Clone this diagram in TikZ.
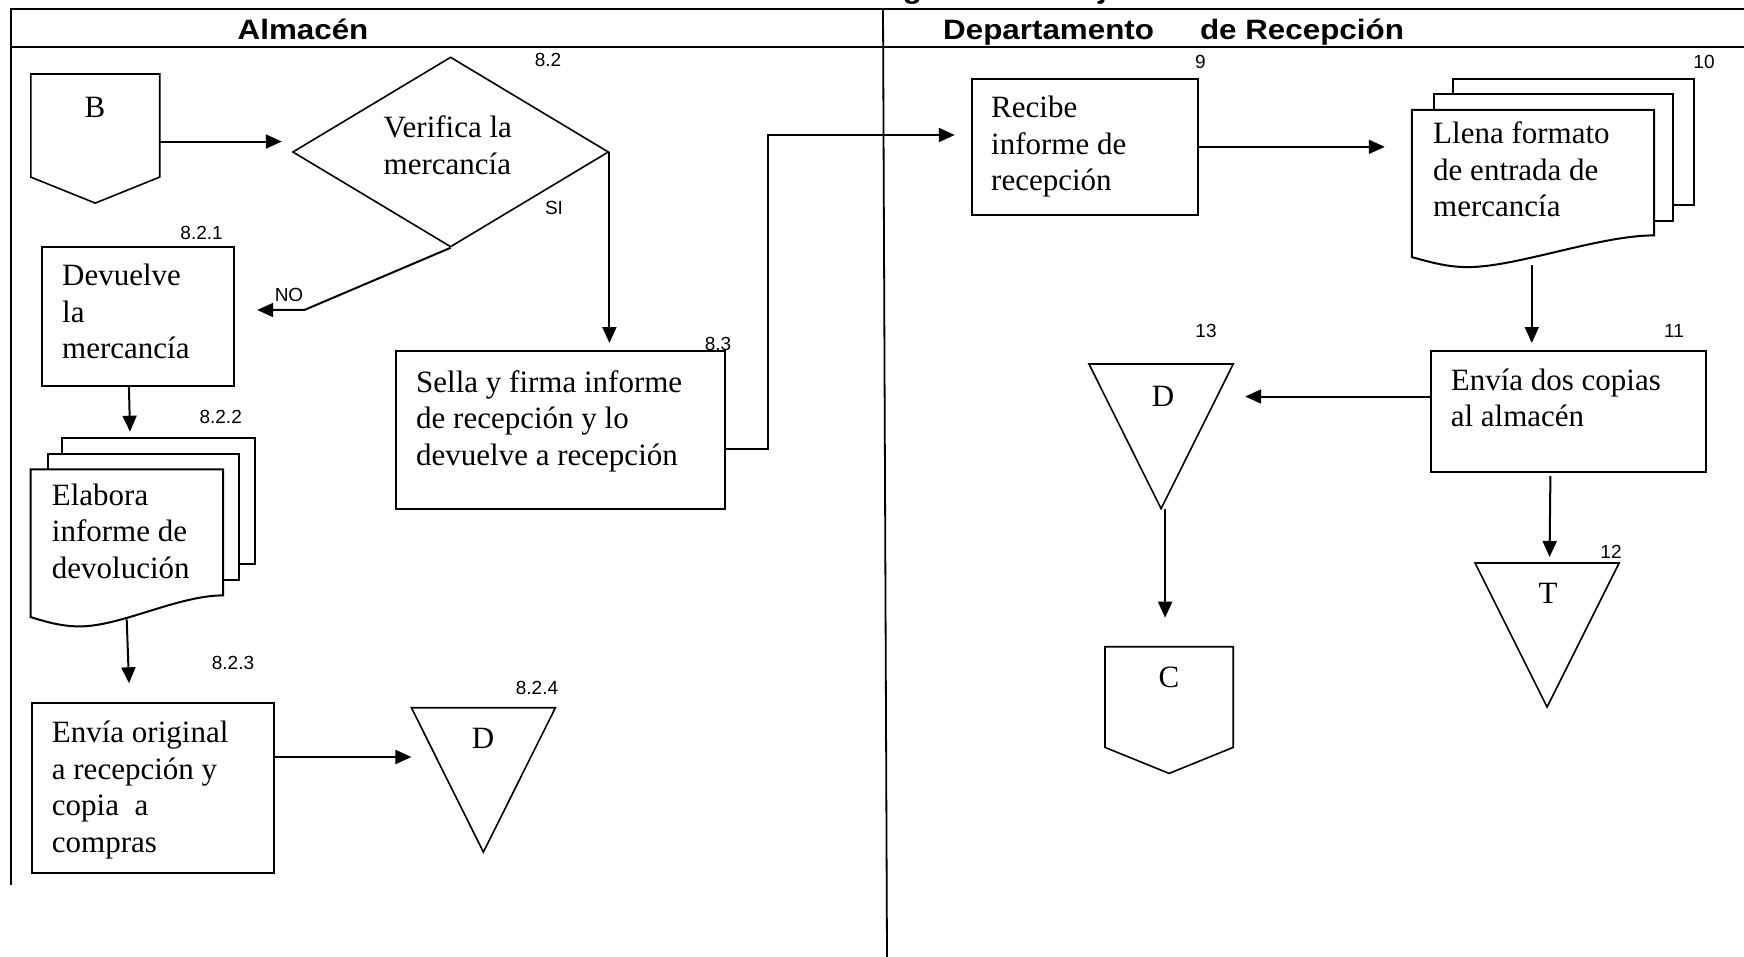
\documentclass[tikz,border=0pt]{standalone}
\usepackage{fontspec}
\setmainfont{Liberation Serif}
\setsansfont{Liberation Sans}
\newfontfamily\headfont{Liberation Sans}[FakeStretch=1.12]
\usetikzlibrary{arrows.meta,calc,shapes.geometric}

\begin{document}
\begin{tikzpicture}[x=1pt,y=-1pt,
  arr/.style={line width=2pt,-{Triangle[length=16pt,width=14pt]}},
  box/.style={draw,line width=2pt,rectangle,inner sep=0pt,anchor=north west},
  sheet/.style={draw,line width=2pt,fill=white,rectangle,inner sep=0pt,anchor=north west},
  ghost/.style={rectangle,inner sep=0pt,anchor=north west},
  outline/.style={line width=1.6pt},
  body/.style={anchor=base west,inner sep=0pt,font=\fontsize{31}{36.5}\selectfont},
  glyph/.style={inner sep=0pt,font=\fontsize{31}{36}\selectfont},
  num/.style={inner sep=0pt,font=\sffamily\fontsize{19}{22}\selectfont},
  head/.style={inner sep=0pt,font=\headfont\bfseries\fontsize{28}{32}\selectfont}
]
\useasboundingbox (0,0) rectangle (1744,957);
\clip (0,0) rectangle (1744,957);

% title line, cut by the top edge of the page
\node[head,anchor=base] (title) at (990,-1) {Diagrama de Flujo};

% swimlane frame
\draw[line width=2.5pt] (11,885) -- (11,9) -- (1760,9);
\draw[line width=2.5pt] (11,47) -- (1760,47);
\draw[line width=1.8pt] (883,9) -- (887,957);
\node[head,anchor=base] (h-alm) at (303,40) {Almacén};
\node[head,anchor=base west] (h-rec) at (943,40) {Departamento\hspace{46pt}de Recepción};

% ---------------- Almacén ----------------
% off-page connector B
\node[ghost,minimum width=128.5pt,minimum height=128.7pt] (B) at (30.8,74) {};
\draw[outline] (B.north west) -- (B.north east) -- ($(B.south east)+(0,-26)$)
  -- (B.south) -- ($(B.south west)+(0,-26)$) -- cycle;
\node[glyph] (B-t) at (95,107) {B};

% decision
\node[diamond,draw,line width=1.6pt,minimum width=316pt,minimum height=190pt,
  aspect=1.66,inner sep=0pt] (dia) at (450.6,152) {};
\node[body] (dia-t) at (383.5,138) {\begin{tabular}[t]{@{}l@{}}Verifica la\\mercancía\end{tabular}};
\node[num] (n82) at (548,60) {8.2};
\draw[arr,shorten >=10pt] ($(B.east)+(0,3)$) -- ($(B.east -| dia.west)+(0,3)$);

% return goods
\node[box,minimum width=192.5pt,minimum height=139.3pt] (dev) at (40.7,245.7) {};
\node[body] (dev-t) at (62,286) {\begin{tabular}[t]{@{}l@{}}Devuelve\\la\\mercancía\end{tabular}};
\node[num] (n821) at (201.6,233) {8.2.1};

\coordinate (nobend) at (304.3,310);
\draw[arr,shorten >=22pt] (dia.south) -- (nobend) -- (nobend -| dev.east);
\node[num] (no) at (289,295) {NO};

% stamp and sign
\node[box,minimum width=329.2pt,minimum height=158pt] (sella) at (394.8,350) {};
\node[body] (sella-t) at (416,392) {\begin{tabular}[t]{@{}l@{}}Sella y firma informe\\de recepción y lo\\devuelve a recepción\end{tabular}};
\node[num] (n83) at (718,344) {8.3};
\draw[arr,shorten >=7pt] (dia.east) -- (dia.east |- sella.north);
\node[num] (si) at (554,208) {SI};

% return report (stack of copies)
\node[sheet,minimum width=193pt,minimum height=125.4pt] (elab3) at (61,437.3) {};
\node[sheet,minimum width=191pt,minimum height=126.6pt] (elab2) at (46.7,452.7) {};
\node[ghost,minimum width=192pt,minimum height=125.7pt] (elab) at (30.7,469.3) {};
\draw[line width=2pt,fill=white] (elab.north west) -- (elab.north east) -- (elab.south east)
  .. controls ($(elab.south east)+(-45,0)$) and ($(elab.south west)+(90,31)$) .. ($(elab.south west)+(49,31)$)
  .. controls ($(elab.south west)+(30,31)$) and ($(elab.south west)+(14,26)$) .. ($(elab.south west)+(0,21.7)$)
  -- cycle;
\node[body] (elab-t) at (51.7,505) {\begin{tabular}[t]{@{}l@{}}Elabora\\informe de\\devolución\end{tabular}};
\node[num] (n822) at (220.7,416.7) {8.2.2};
\draw[arr] ($(dev.south)+(-9,0)$) -- ($(elab.north west)+(99.3,-37.6)$);

% send original
\node[box,minimum width=242.3pt,minimum height=169.4pt] (envio) at (30.6,702.3) {};
\node[body] (envio-t) at (51.7,742.7) {\begin{tabular}[t]{@{}l@{}}Envía original\\a recepción y\\copia\ \ a\\compras\end{tabular}};
\node[num] (n823) at (233,662.7) {8.2.3};
\draw[arr] ($(elab.south west)+(96,24)$) -- ($(envio.north west)+(98.4,-19)$);

% file D
\node[ghost,minimum width=143.6pt,minimum height=144pt] (d824) at (411.4,707.7) {};
\draw[outline] (d824.north west) -- (d824.north east) -- (d824.south) -- cycle;
\node[glyph] (d824-t) at (483,738) {D};
\node[num] (n824) at (537,688.3) {8.2.4};
\coordinate (eo-out) at ($(envio.east)+(0,-31)$);
\draw[arr] (eo-out) -- (eo-out -| d824.west);

% ---------------- Departamento de Recepción ----------------
\node[box,minimum width=226.6pt,minimum height=136.3pt] (recibe) at (970.8,77.7) {};
\node[body] (recibe-t) at (991,118) {\begin{tabular}[t]{@{}l@{}}Recibe\\informe de\\recepción\end{tabular}};
\node[num] (n9) at (1200.5,62) {9};

\coordinate (s-out) at ($(sella.east)+(0,19)$);
\coordinate (up) at (768,135);
\draw[arr] (s-out) -| (up) -- ($(up -| recibe.west)+(-16,0)$);

% entry form (stack of copies)
\node[sheet,minimum width=241pt,minimum height=126.3pt] (llena3) at (1451.8,77.7) {};
\node[sheet,minimum width=239pt,minimum height=126.7pt] (llena2) at (1433,93.3) {};
\node[ghost,minimum width=242pt,minimum height=125pt] (llena) at (1411.8,110) {};
\draw[line width=2pt,fill=white] (llena.north west) -- (llena.north east) -- (llena.south east)
  .. controls ($(llena.south east)+(-55,0)$) and ($(llena.south west)+(105,31.7)$) .. ($(llena.south west)+(56,31.7)$)
  .. controls ($(llena.south west)+(34,31.7)$) and ($(llena.south west)+(16,26)$) .. ($(llena.south west)+(0,21.7)$)
  -- cycle;
\node[body] (llena-t) at (1433,144) {\begin{tabular}[t]{@{}l@{}}Llena formato\\de entrada de\\mercancía\end{tabular}};
\node[num] (n10) at (1704,62) {10};
\draw[arr] (recibe.east) -- ($(recibe.east -| llena.west)+(-27,0)$);

% send two copies
\node[box,minimum width=275.2pt,minimum height=121pt] (envia) at (1429.8,350) {};
\node[body] (envia-t) at (1450.6,390) {\begin{tabular}[t]{@{}l@{}}Envía dos copias\\al almacén\end{tabular}};
\node[num] (n11) at (1674,331) {11};
\draw[arr] ($(llena.south west)+(120,30)$) -- ($(envia.north west)+(102,-7)$);

% file D (13)
\node[ghost,minimum width=143.8pt,minimum height=144.3pt] (d13) at (1089,364) {};
\draw[outline] (d13.north west) -- (d13.north east) -- (d13.south) -- cycle;
\node[glyph] (d13-t) at (1163,396) {D};
\node[num] (n13) at (1206,331) {13};
\coordinate (e-out) at ($(envia.west)+(0,-15)$);
\draw[arr,shorten >=12pt] (e-out) -- (e-out -| d13.east);

% off-page connector C
\node[ghost,minimum width=127.8pt,minimum height=126.3pt] (conC) at (1105,646.7) {};
\draw[outline] (conC.north west) -- (conC.north east) -- ($(conC.south east)+(0,-26)$)
  -- (conC.south) -- ($(conC.south west)+(0,-26)$) -- cycle;
\node[glyph] (C-t) at (1169,677) {C};
\draw[arr] ($(d13.south)+(4,0)$) -- ($(conC.north)+(-4,-29)$);

% temporary file T
\node[ghost,minimum width=143.7pt,minimum height=143.7pt] (t12) at (1475,563) {};
\draw[outline] (t12.north west) -- (t12.north east) -- (t12.south) -- cycle;
\node[glyph] (T-t) at (1548,593) {T};
\node[num] (n12) at (1611,551.7) {12};
\draw[arr] ($(envia.south)+(-18,3)$) -- ($(t12.north)+(2.5,-6)$);
\end{tikzpicture}
\end{document}
